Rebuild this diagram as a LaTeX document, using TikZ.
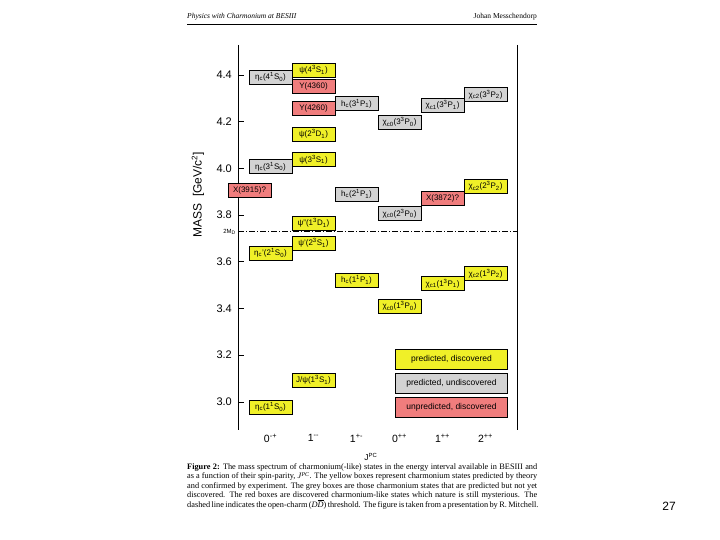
\documentclass[tikz,border=0pt]{standalone}
\usepackage{fontspec}
\setmainfont{Liberation Serif}
\setsansfont{Liberation Sans}
\newcommand{\sbs}[1]{\textsubscript{#1}}
\newcommand{\sps}[1]{\textsuperscript{#1}}
\definecolor{byel}{RGB}{240,240,40}
\definecolor{bgry}{RGB}{211,211,211}
\definecolor{bred}{RGB}{240,125,125}
\tikzset{
  st/.style={draw=black, line width=0.7pt, minimum width=43pt, minimum height=14pt, inner sep=0pt,
    font=\sffamily\fontsize{8}{8.5}\selectfont},
  yb/.style={st, fill=byel},
  gb/.style={st, fill=bgry},
  rb/.style={st, fill=bred},
  lg/.style={draw=black, line width=0.7pt, minimum width=112pt, minimum height=20pt, inner sep=0pt,
    font=\sffamily\fontsize{8.5}{9}\selectfont},
  axisline/.style={line width=0.8pt, black},
  ticklab/.style={anchor=east, font=\sffamily\fontsize{11}{12}\selectfont, inner sep=0pt},
  jpclab/.style={font=\sffamily\fontsize{10.5}{12}\selectfont, inner sep=0pt},
  capline/.style={anchor=west, inner sep=0pt, font=\rmfamily\fontsize{8.3}{8.5}\selectfont},
  ddash/.style={line width=0.8pt, dash pattern=on 6pt off 2pt on 1pt off 2pt}
}
\begin{document}
\begin{tikzpicture}[x=1pt,y=-1pt]
\useasboundingbox (0,0) rectangle (720,540);
% header
\node[anchor=west, inner sep=0pt, font=\rmfamily\itshape\fontsize{7.5}{8}\selectfont] (hl) at (187,17) {Physics with Charmonium at BESIII};
\node[anchor=east, inner sep=0pt, font=\rmfamily\fontsize{7.5}{8}\selectfont] (hr) at (537,17) {Johan Messchendorp};
\coordinate (hla) at (187,24.5);
\coordinate (hlb) at (537,24.5);
\draw[line width=0.8pt] (hla) -- (hlb);
% axes
\coordinate (lt) at (238,45); \coordinate (lb) at (238,430);
\coordinate (rt) at (517,45); \coordinate (rbt) at (517,430);
\draw[axisline] (lt) -- (lb);
\draw[axisline] (rt) -- (rbt);
\foreach \v/\yy [count=\i] in {4.4/75,4.2/121.7,4.0/168.4,3.8/215.1,3.6/261.8,3.4/308.5,3.2/355.2,3.0/401.9}{
  \coordinate (ta\i) at (238,\yy);
  \coordinate (tb\i) at (244,\yy);
  \draw[axisline] (ta\i) -- (tb\i);
  \node[ticklab] (tl\i) at (232,\yy) {\v};
}
\node[rotate=90, inner sep=0pt, font=\sffamily\fontsize{12}{13}\selectfont] (ylab) at (198,195) {MASS\hspace{7pt}[GeV/c\sps{2}]};
% threshold
\coordinate (dl) at (238,231); \coordinate (dr) at (517,231);
\draw[ddash] (dl) -- (dr);
\node[anchor=east, inner sep=0pt, font=\sffamily\fontsize{6}{7}\selectfont] (md) at (236,232) {2M\sbs{D}};
% column 0
\node[gb] (a1) at (270.5,77) {η\sbs{c}(4\sps{1}S\sbs{0})};
\node[gb] (a2) at (270.5,166.5) {η\sbs{c}(3\sps{1}S\sbs{0})};
\node[yb] (a4) at (270.5,253) {η\sbs{c}'(2\sps{1}S\sbs{0})};
\node[yb] (a5) at (270.5,407) {η\sbs{c}(1\sps{1}S\sbs{0})};
\node[rb] (a3) at (249.5,190) {X(3915)?};
% column 1
\node[yb] (b1) at (313.5,70) {ψ(4\sps{3}S\sbs{1})};
\node[rb] (b2) at (313.5,86) {Y(4360)};
\node[rb] (b3) at (313.5,108) {Y(4260)};
\node[yb] (b4) at (313.5,134) {ψ(2\sps{3}D\sbs{1})};
\node[yb] (b5) at (313.5,159.5) {ψ(3\sps{3}S\sbs{1})};
\node[yb] (b6) at (313.5,223) {ψ''(1\sps{3}D\sbs{1})};
\node[yb] (b7) at (313.5,243) {ψ'(2\sps{3}S\sbs{1})};
\node[yb] (b8) at (313.5,380) {J/ψ(1\sps{3}S\sbs{1})};
% column 2
\node[gb] (c1) at (356.5,103.5) {h\sbs{c}(3\sps{1}P\sbs{1})};
\node[gb] (c2) at (356.5,194) {h\sbs{c}(2\sps{1}P\sbs{1})};
\node[yb] (c3) at (356.5,280) {h\sbs{c}(1\sps{1}P\sbs{1})};
% column 3
\node[gb] (d1) at (399.5,122) {χ\sbs{c0}(3\sps{3}P\sbs{0})};
\node[gb] (d2) at (399.5,213.5) {χ\sbs{c0}(2\sps{3}P\sbs{0})};
\node[yb] (d3) at (399.5,306) {χ\sbs{c0}(1\sps{3}P\sbs{0})};
% column 4
\node[gb] (e1) at (442.5,105) {χ\sbs{c1}(3\sps{3}P\sbs{1})};
\node[rb] (e2) at (442.5,198) {X(3872)?};
\node[yb] (e3) at (442.5,283.5) {χ\sbs{c1}(1\sps{3}P\sbs{1})};
% column 5
\node[gb] (f1) at (485.5,94.5) {χ\sbs{c2}(3\sps{3}P\sbs{2})};
\node[yb] (f2) at (485.5,186) {χ\sbs{c2}(2\sps{3}P\sbs{2})};
\node[yb] (f3) at (485.5,273.5) {χ\sbs{c2}(1\sps{3}P\sbs{2})};
% legend
\node[lg, fill=byel] (l1) at (451.5,359) {predicted, discovered};
\node[lg, fill=bgry] (l2) at (451.5,383) {predicted, undiscovered};
\node[lg, fill=bred] (l3) at (451.5,407) {unpredicted, discovered};
% x labels
\node[jpclab] (x1) at (270.5,438) {0\sps{-+}};
\node[jpclab] (x2) at (313.5,438) {1\sps{-{}-}};
\node[jpclab] (x3) at (356.5,438) {1\sps{+-}};
\node[jpclab] (x4) at (399.5,438) {0\sps{++}};
\node[jpclab] (x5) at (442.5,438) {1\sps{++}};
\node[jpclab] (x6) at (485.5,438) {2\sps{++}};
\node[inner sep=0pt, font=\sffamily\fontsize{8.5}{9}\selectfont] (jpc) at (371,457) {J\sps{PC}};
% caption
\node[capline] (cp1) at (187,467) {\makebox[350pt][s]{\textbf{Figure 2:} The mass spectrum of charmonium(-like) states in the energy interval available in BESIII and}};
\node[capline] (cp2) at (187,476.5) {\makebox[350pt][s]{as a function of their spin-parity, \textit{J}\sps{\textit{PC}}. The yellow boxes represent charmonium states predicted by theory}};
\node[capline] (cp3) at (187,486) {\makebox[350pt][s]{and confirmed by experiment. The grey boxes are those charmonium states that are predicted but not yet}};
\node[capline] (cp4) at (187,495.5) {\makebox[350pt][s]{discovered. The red boxes are discovered charmonium-like states which nature is still mysterious. The}};
\node[capline] (cp5) at (187,505) {\makebox[350pt][s]{dashed line indicates the open-charm (\textit{D}\smash{$\overline{\textit{D}}$}) threshold. The figure is taken from a presentation by R. Mitchell.}};
% page number
\node[inner sep=0pt, font=\sffamily\fontsize{12}{13}\selectfont] (pg) at (669,506) {27};
\end{tikzpicture}
\end{document}
